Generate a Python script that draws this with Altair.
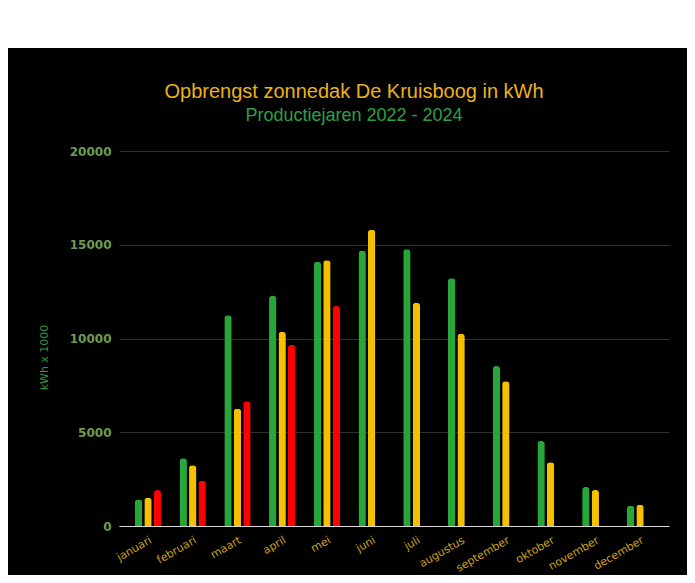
import altair as alt
import pandas as pd

months = ["januari", "februari", "maart", "april", "mei", "juni", "juli",
          "augustus", "september", "oktober", "november", "december"]
years = ["2022", "2023", "2024"]
y2022 = [1420, 3610, 11240, 12280, 14100, 14700, 14760, 13210, 8530, 4530, 2080, 1080]
y2023 = [1510, 3240, 6260, 10360, 14170, 15800, 11910, 10260, 7720, 3400, 1920, 1140]
y2024 = [1920, 2420, 6650, 9650, 11730, None, None, None, None, None, None, None]
bar_colors = ["#27a63a", "#f6c000", "#ff0000"]
y_ticks = [0, 5000, 10000, 15000, 20000]

rows = []
for yr, vals in zip(years, [y2022, y2023, y2024]):
    for m, v in zip(months, vals):
        if v is not None:
            rows.append({"maand": m, "jaar": yr, "kWh": v})
df = pd.DataFrame(rows)

band = alt.Chart(alt.Data(values=[{"a": 1}])).mark_rect(color="white").encode(
    x=alt.value(-111), x2=alt.value(568), y=alt.value(-143), y2=alt.value(-103)
)

bars = alt.Chart(df).mark_bar(cornerRadiusEnd=3).encode(
    x=alt.X("maand:N", sort=months,
            scale=alt.Scale(paddingInner=0.37, paddingOuter=0.333),
            axis=alt.Axis(title=None, labelAngle=330, labelAlign="right",
                          labelBaseline="top", labelColor="#c9a11f",
                          labelFont="DejaVu Sans", labelFontSize=11,
                          ticks=False, labelPadding=8, domainColor="#d8d8d8",
                          domainWidth=1, grid=False)),
    xOffset=alt.XOffset("jaar:N", scale=alt.Scale(domain=years, paddingInner=0.22, paddingOuter=0.1)),
    y=alt.Y("kWh:Q", scale=alt.Scale(domain=[0, 20000]),
            axis=alt.Axis(title="kWh x 1000", values=y_ticks, format="d",
                          labelColor="#6d9c50", labelFont="DejaVu Sans",
                          labelFontWeight="bold", labelFontSize=12,
                          labelPadding=8, ticks=False, domain=False,
                          gridColor="#303030", gridWidth=1,
                          titleColor="#2e9b40", titleFont="DejaVu Sans",
                          titleFontSize=11, titleFontWeight="normal",
                          titleAngle=270, titleX=-75, titleY=206,
                          titleAlign="center", titleBaseline="middle")),
    color=alt.Color("jaar:N", scale=alt.Scale(domain=years, range=bar_colors), legend=None),
)

chart = alt.layer(band, bars).properties(
    width=550, height=375,
    padding={"left": 111, "top": 143, "right": 18, "bottom": 49},
    autosize=alt.AutoSizeParams(type="none"),
    background="black",
    title=alt.TitleParams(
        text="Opbrengst zonnedak De Kruisboog in kWh",
        subtitle="Productiejaren 2022 - 2024",
        color="#eab31e", subtitleColor="#2ea043",
        font="Liberation Sans", subtitleFont="Liberation Sans",
        fontSize=20, subtitleFontSize=18, fontWeight="normal",
        anchor="middle", dx=-40, offset=-117, subtitlePadding=5,
    ),
).configure_view(strokeWidth=0)

chart.save("out.html", embed_options={"renderer": "svg", "actions": False})
